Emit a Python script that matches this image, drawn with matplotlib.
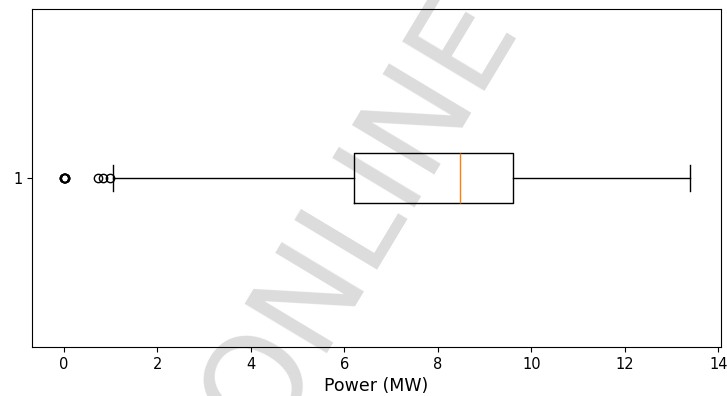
import matplotlib as mpl
mpl.use('Agg')
import matplotlib.pyplot as plt

# box statistics (MW)
q1 = 6.21
median = 8.48
q3 = 9.61
whisker_low = 1.06
whisker_high = 13.40
fliers = [0.0, 0.004, 0.008, 0.012, 0.016, 0.02, 0.72, 0.84, 0.99]

stats = [{
    'label': '1',
    'q1': q1, 'med': median, 'q3': q3,
    'whislo': whisker_low, 'whishi': whisker_high,
    'fliers': fliers,
}]

fig = plt.figure(figsize=(7.27, 3.96), dpi=100)
ax = fig.add_axes([32 / 727, 1 - 347 / 396, (721 - 32) / 727, (347 - 9) / 396])

ax.bxp(stats, positions=[1], widths=0.15, vert=False,
       medianprops={'color': '#ff7f0e'})
ax.set_xlim(-0.684, 14.06)
ax.set_ylim(0.5, 1.5)
ax.set_xlabel('Power (MW)', fontsize=12.5)
ax.tick_params(labelsize=10.5)

# watermark behind the plot
ax.text(0.495, 0.455, 'ONLINE', transform=fig.transFigure, fontsize=94,
        color='#dcdcdc', rotation=59, ha='center', va='center',
        rotation_mode='anchor', clip_on=False, zorder=0)

fig.savefig('out.png', dpi=100)
plt.close(fig)
